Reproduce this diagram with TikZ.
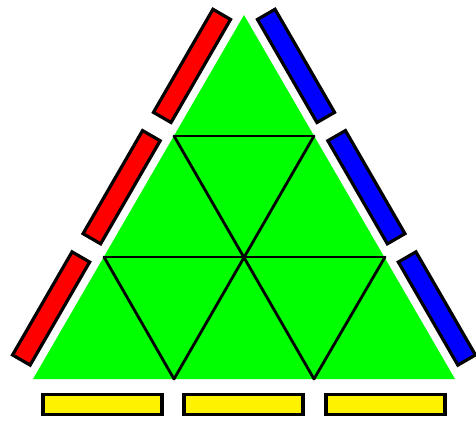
\documentclass[tikz,border=0pt]{standalone}
\begin{document}
\begin{tikzpicture}[x=1pt,y=-1pt,
  grid/.style={line width=2.8pt,line cap=round,black},
  bar/.style={draw=black,line width=3.2pt,minimum width=119pt,minimum height=20.3pt,inner sep=0pt,outer sep=0pt},
  redbar/.style={bar,fill=red,rotate=60},
  bluebar/.style={bar,fill=blue,rotate=-60},
  yellowbar/.style={bar,fill=yellow}]
\useasboundingbox (0,0) rectangle (476,423);
\coordinate (A) at (244,15);
\coordinate (L) at (33,379);
\coordinate (R) at (455,379);
\coordinate (m1l) at (174,136);
\coordinate (m1r) at (314,136);
\coordinate (m2l) at (104,257);
\coordinate (m2c) at (244,257);
\coordinate (m2r) at (385,257);
\coordinate (b1) at (174,379);
\coordinate (b2) at (314,379);
\fill[green] (A) -- (L) -- (R) -- cycle;
\draw[grid] (m1l) -- (m1r);
\draw[grid] (m2l) -- (m2r);
\draw[grid] (m1l) -- (b2);
\draw[grid] (m1r) -- (b1);
\draw[grid] (m2l) -- (b1);
\draw[grid] (m2r) -- (b2);
\node[redbar] (r1) at (192.0,65.9) {};
\node[redbar] (r2) at (121.6,187.2) {};
\node[redbar] (r3) at (51.1,308.5) {};
\node[bluebar] (u1) at (296.0,65.9) {};
\node[bluebar] (u2) at (366.4,187.2) {};
\node[bluebar] (u3) at (436.9,308.5) {};
\node[yellowbar] (y1) at (102.5,404.5) {};
\node[yellowbar] (y2) at (243.5,404.5) {};
\node[yellowbar] (y3) at (385.5,404.5) {};
\end{tikzpicture}
\end{document}
